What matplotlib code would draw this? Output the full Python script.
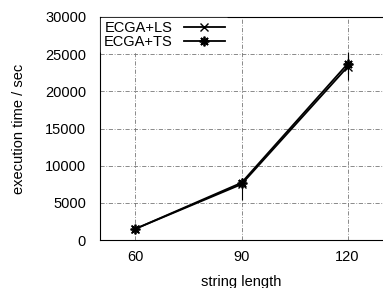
import matplotlib
matplotlib.use("Agg")
import matplotlib.pyplot as plt
import numpy as np

plt.rcParams['font.family'] = ['Liberation Sans', 'DejaVu Sans']
plt.rcParams['font.size'] = 10.5

length = [60, 90, 120]
ls_time = [1500, 7500, 23300]
ls_lo = [1300, 5400, 21500]
ls_hi = [1700, 8100, 25300]
ts_time = [1500, 7700, 23700]
ts_lo = [1300, 6800, 22300]
ts_hi = [1700, 8400, 25000]

fig = plt.figure(figsize=(3.83, 2.88), dpi=100)
ax = fig.add_axes([100/383, 48/288, 283/383, 223/288])

ls_err = [np.array(ls_time) - np.array(ls_lo), np.array(ls_hi) - np.array(ls_time)]
ts_err = [np.array(ts_time) - np.array(ts_lo), np.array(ts_hi) - np.array(ts_time)]

# error bars without legend entries
ax.errorbar(length, ls_time, yerr=ls_err, fmt='none', ecolor='black', elinewidth=0.8, capsize=0)
ax.errorbar(length, ts_time, yerr=ts_err, fmt='none', ecolor='black', elinewidth=0.8, capsize=0)

ax.plot(length, ls_time, color='black', lw=1.3, marker='x', ms=6, mew=1.0, label='ECGA+LS')
ax.plot(length, ts_time, color='black', lw=1.3, marker=(8, 2, 0), ms=7, mew=1.3, label='ECGA+TS')

ax.set_xlim(50, 130)
ax.set_ylim(0, 30000)
ax.set_xticks(length)
ax.set_yticks(range(0, 30001, 5000))
ax.grid(True, color='#777777', linestyle=(0, (5, 2, 1, 2)), lw=0.6)
ax.tick_params(direction='in', length=0)
ax.tick_params(axis='x', pad=7)
ax.tick_params(axis='y', pad=10)
for s in ax.spines.values():
    s.set_linewidth(0.8)
ax.spines['right'].set_visible(False)

ax.set_xlabel('string length', labelpad=8)
ax.set_ylabel('execution time / sec', labelpad=14)

leg = ax.legend(loc='upper left', frameon=True, fancybox=False, edgecolor='white',
                framealpha=1.0, borderpad=0.15, handlelength=2.8, labelspacing=0.05,
                borderaxespad=0.1, handletextpad=0.8, markerfirst=False)

fig.savefig('out.png', dpi=100)
